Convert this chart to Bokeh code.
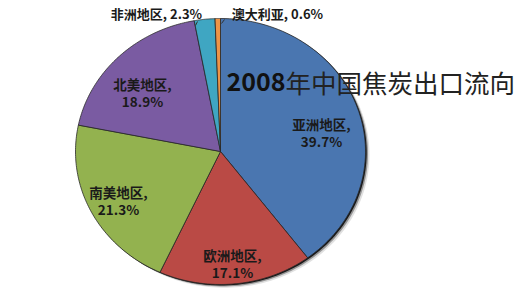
import numpy as np
from bokeh.plotting import figure
from bokeh.models import Range1d, ColumnDataSource
from bokeh.core.properties import value
from bokeh.embed import file_html
from bokeh.resources import INLINE

regions = ["亚洲地区", "欧洲地区", "南美地区", "北美地区", "非洲地区", "澳大利亚"]
shares = [39.7, 17.1, 21.3, 18.9, 2.3, 0.6]
colors = ["#4A76B0", "#BA4A45", "#93B24F", "#7A5BA2", "#3FA6C2", "#EE9447"]
title = "2008年中国焦炭出口流向"

W, H = 528, 290
cx, cy, rx, ry = 220, 151, 145, 133

p = figure(width=W, height=H, output_backend="svg", toolbar_location=None,
           x_range=Range1d(0, W), y_range=Range1d(H, 0), min_border=0)
p.axis.visible = False
p.grid.visible = False
p.outline_line_color = None
p.background_fill_color = "white"
p.border_fill_color = "white"

# shadow
t = np.linspace(0, 2 * np.pi, 200)
for off, a in [(4, 0.12), (2.5, 0.35), (1.2, 0.85)]:
    p.patch(cx + off + rx * np.sin(t), cy + off * 0.8 - ry * np.cos(t),
            fill_color="black", fill_alpha=a, line_color=None)

total = sum(shares)
cum = np.cumsum([0] + shares) / total * 2 * np.pi
xs, ys = [], []
for i in range(len(shares)):
    a = np.linspace(cum[i], cum[i + 1], 80)
    xs.append(np.concatenate([[cx], cx + rx * np.sin(a), [cx]]))
    ys.append(np.concatenate([[cy], cy - ry * np.cos(a), [cy]]))
p.patches(xs, ys, fill_color=colors, line_color="#2a2a2a", line_width=0.8)

# inner labels
font = value("Noto Sans CJK SC")
lab_pos = {0: (321, 123), 1: (232, 254), 2: (118, 191), 3: (142, 83)}
lx, ly1, ly2, t1, t2 = [], [], [], [], []
for i, (x, y) in lab_pos.items():
    lx.append(x); ly1.append(y); ly2.append(y + 17)
    t1.append(regions[i] + ","); t2.append(f"{shares[i]}%")
p.text(lx, ly1, text=t1, text_font=font, text_font_size="13.5px", text_font_style="bold",
       text_align="center", text_baseline="middle", text_color="#1a1a1a")
p.text(lx, ly2, text=t2, text_font=font, text_font_size="13.5px", text_font_style="bold",
       text_align="center", text_baseline="middle", text_color="#1a1a1a")

# outer labels
p.text([156, 277], [13, 13], text=[f"{regions[4]}, {shares[4]}%", f"{regions[5]}, {shares[5]}%"],
       text_font=font, text_font_size="13px", text_font_style="bold",
       text_align="center", text_baseline="middle", text_color="#1a1a1a")
p.line([197, 195], [21, 25], line_color="#333333", line_width=1)
p.line([224, 221], [19, 23], line_color="#333333", line_width=1)

# title
p.text([226], [81], text=[title[:4]], text_font=font, text_font_size="25px", text_font_style="bold",
       text_align="left", text_baseline="middle", text_color="#111111")
p.text([285], [81], text=[title[4:]], text_font=font, text_font_size="25.5px",
       text_align="left", text_baseline="middle", text_color="#222222")

open("out.html", "w").write(file_html(p, INLINE))
